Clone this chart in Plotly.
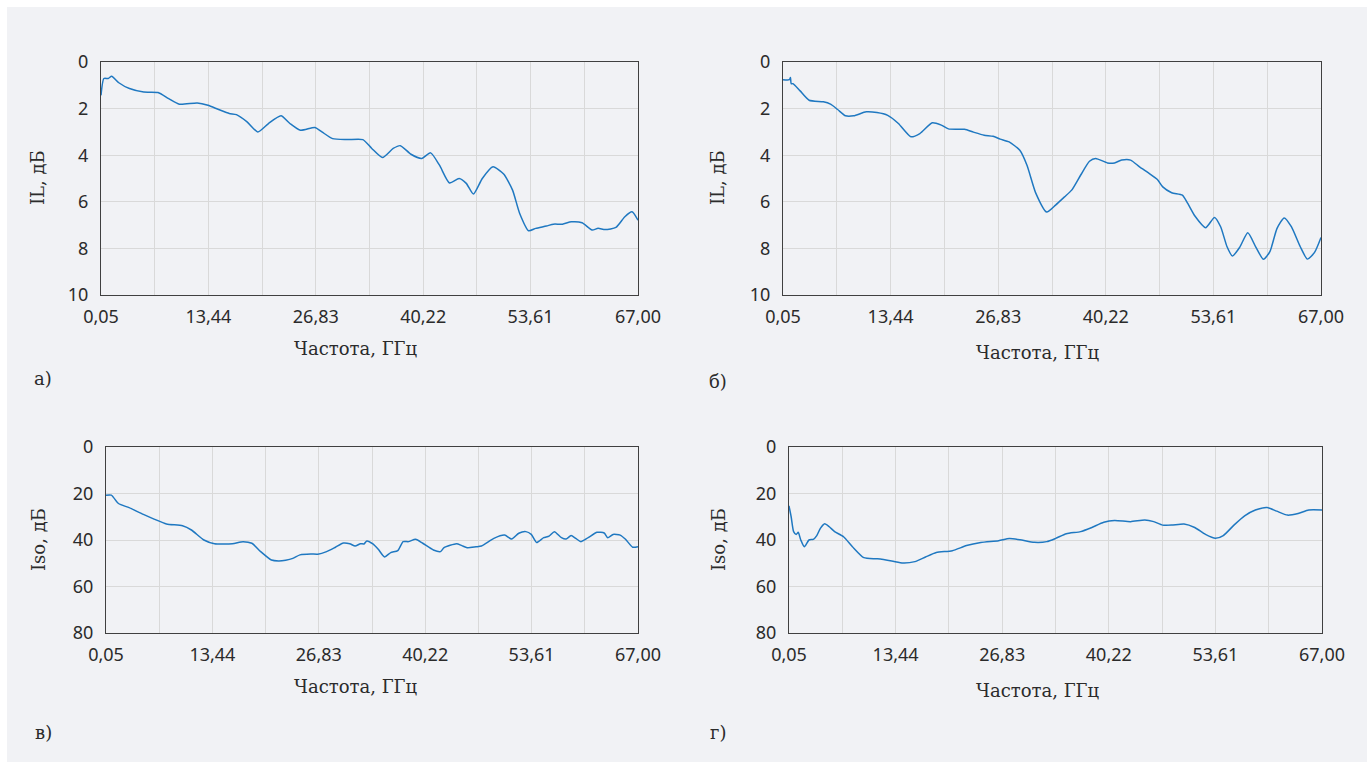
import plotly.graph_objects as go

# ---------------- data ----------------
freq_a = [0.05, 0.41, 0.94, 1.38, 2.27, 3.60, 5.38, 7.16, 8.49, 9.82, 12.05, 13.38, 14.71, 16.04,
          16.93, 18.26, 19.60, 20.93, 22.49, 23.60, 24.93, 26.71, 27.59, 28.93, 30.70, 32.70,
          33.81, 35.15, 36.48, 37.37, 38.70, 40.03, 41.14, 42.25, 43.50, 44.70, 45.59, 46.48,
          47.59, 48.92, 50.25, 51.36, 52.25, 53.36, 54.25, 55.58, 56.47, 57.58, 58.69, 60.03,
          61.27, 62.02, 62.91, 64.25, 65.36, 66.25, 67.0]
il_a = [1.43, 0.71, 0.71, 0.61, 0.89, 1.14, 1.29, 1.31, 1.57, 1.81, 1.76, 1.86, 2.04, 2.21,
        2.26, 2.57, 3.0, 2.64, 2.31, 2.64, 2.93, 2.81, 3.0, 3.29, 3.33, 3.33,
        3.71, 4.1, 3.71, 3.59, 3.96, 4.14, 3.9, 4.43, 5.19, 5.0, 5.21, 5.67,
        5.0, 4.5, 4.81, 5.5, 6.5, 7.24, 7.14, 7.04, 6.96, 6.96, 6.86, 6.9,
        7.21, 7.14, 7.19, 7.1, 6.64, 6.43, 6.79]

freq_b = [0.05, 0.85, 0.98, 1.07, 1.29, 2.18, 3.30, 5.07, 5.96, 6.85, 7.83, 8.85, 10.41, 11.74,
          13.08, 14.41, 15.97, 17.08, 18.63, 19.75, 20.63, 22.63, 23.75, 25.08, 26.19, 27.08,
          28.19, 29.52, 30.41, 31.52, 32.86, 33.97, 35.08, 35.97, 37.08, 38.19, 38.95, 40.42,
          41.31, 42.19, 43.31, 44.42, 45.53, 46.64, 47.31, 48.42, 49.75, 50.42, 51.31, 52.64,
          53.75, 54.51, 55.31, 55.98, 56.87, 57.89, 58.87, 59.84, 60.64, 61.53, 62.42, 63.31,
          64.42, 65.31, 66.20, 67.0]
il_b = [0.76, 0.76, 0.67, 0.93, 0.93, 1.24, 1.64, 1.71, 1.81, 2.04, 2.31, 2.31, 2.14, 2.17,
        2.29, 2.64, 3.21, 3.07, 2.61, 2.71, 2.87, 2.89, 3.01, 3.14, 3.19, 3.31,
        3.43, 3.79, 4.43, 5.64, 6.44, 6.14, 5.79, 5.5, 4.86, 4.26, 4.14, 4.33,
        4.33, 4.21, 4.21, 4.5, 4.76, 5.04, 5.36, 5.61, 5.71, 6.07, 6.61, 7.11,
        6.67, 7.07, 7.93, 8.33, 7.96, 7.33, 7.93, 8.47, 8.14, 7.14, 6.69, 7.07,
        7.93, 8.46, 8.17, 7.53]

freq_c = [0.05, 0.72, 1.62, 2.96, 4.75, 6.10, 7.66, 9.68, 10.80, 12.37, 13.71, 15.95, 17.29,
          18.41, 19.52, 20.87, 21.77, 22.66, 23.56, 24.46, 25.80, 26.70, 27.81, 28.93, 29.92,
          30.73, 31.40, 32.07, 32.52, 32.88, 33.64, 34.31, 35.11, 35.88, 36.77, 37.44, 38.12,
          39.01, 39.91, 41.25, 42.15, 42.59, 44.16, 44.83, 45.50, 46.62, 47.30, 48.86, 50.21,
          51.10, 52.00, 52.89, 53.57, 54.24, 55.13, 55.81, 56.48, 57.37, 57.95, 58.58, 59.16,
          59.83, 60.73, 61.85, 62.74, 63.19, 63.86, 64.76, 65.43, 66.33, 67.0]
iso_c = [20.7, 20.7, 24.3, 26.1, 29.0, 31.0, 33.1, 33.9, 35.7, 40.0, 41.6, 41.6, 40.7,
         41.4, 45.0, 48.6, 49.0, 48.7, 47.9, 46.4, 46.0, 46.1, 45.0, 43.1, 41.3,
         41.6, 42.6, 41.6, 41.7, 40.4, 41.7, 44.0, 47.3, 45.4, 44.6, 40.7, 40.7,
         39.7, 41.4, 44.3, 45.0, 43.3, 41.6, 42.4, 43.3, 42.9, 42.6, 39.3, 37.9,
         39.6, 37.1, 36.4, 37.6, 41.1, 39.0, 38.3, 36.4, 39.0, 39.6, 38.1, 39.3,
         40.7, 39.0, 36.7, 37.0, 39.0, 37.6, 37.9, 39.7, 43.1, 42.9]

freq_d = [0.05, 0.32, 0.63, 0.95, 1.21, 1.53, 1.98, 2.56, 3.10, 3.54, 3.99, 4.53, 5.11, 5.78,
          6.90, 8.02, 9.45, 11.16, 12.95, 14.38, 15.86, 17.20, 18.55, 20.56, 22.35, 24.14,
          26.38, 27.73, 29.07, 30.86, 32.43, 33.55, 34.89, 36.68, 38.03, 39.59, 40.94, 42.95,
          44.74, 45.86, 46.98, 48.10, 49.67, 51.01, 52.36, 53.61, 54.60, 55.94, 57.28, 58.63,
          60.10, 61.31, 62.66, 64.00, 65.34, 67.0]
iso_d = [25.3, 30.0, 36.4, 37.6, 36.7, 40.0, 42.9, 40.0, 39.7, 38.1, 35.0, 33.0, 34.3, 36.4,
         38.6, 42.9, 47.6, 48.1, 49.0, 49.9, 49.3, 47.3, 45.4, 44.6, 42.4, 41.1,
         40.3, 39.4, 39.9, 41.0, 40.7, 39.3, 37.3, 36.4, 34.7, 32.4, 31.6, 32.1,
         31.4, 32.1, 33.6, 33.6, 33.1, 34.6, 37.6, 39.3, 38.1, 33.6, 29.6, 27.1,
         26.0, 27.6, 29.3, 28.6, 27.1, 27.1]

x_tick_vals = [0.05, 6.745, 13.44, 20.135, 26.83, 33.525, 40.22, 46.915, 53.61, 60.305, 67.0]
x_tick_text = ["0,05", "", "13,44", "", "26,83", "", "40,22", "", "53,61", "", "67,00"]
il_ticks = [0, 2, 4, 6, 8, 10]
iso_ticks = [0, 20, 40, 60, 80]

x_title = "Частота, ГГц"
panel_labels = ["а)", "б)", "в)", "г)"]

# ---------------- layout helpers ----------------
W, H = 1367, 762
LINE = "#1f78c1"
GRID = "#d9d9d9"
FRAME = "#404040"
BG = "#f1f2f5"
TICKFONT = dict(family="Noto Sans", size=18, color="#2b2b2b")
TITLEFONT = dict(family="DejaVu Serif", size=18, color="#2b2b2b")


def px(xp):
    return xp / W


def py(yp):
    return (H - yp) / H


# panel boxes in pixels: (x0, x1, ytop, ybottom)
boxes = [(101, 638, 62, 295), (783, 1321, 62, 295), (106, 638, 447, 633), (789, 1322, 447, 633)]

fig = go.Figure()
series = [(freq_a, il_a), (freq_b, il_b), (freq_c, iso_c), (freq_d, iso_d)]
for i, (fx, fy) in enumerate(series):
    n = "" if i == 0 else str(i + 1)
    fig.add_trace(go.Scatter(x=fx, y=fy, mode="lines", xaxis="x" + n, yaxis="y" + n,
                             line=dict(color=LINE, width=1.5, shape="spline", smoothing=0.6),
                             showlegend=False, hoverinfo="skip"))

layout = dict(width=W, height=H, margin=dict(l=0, r=0, t=0, b=0, pad=0, autoexpand=False),
              paper_bgcolor="white", plot_bgcolor="rgba(0,0,0,0)", showlegend=False)

for i, (x0, x1, yt, yb) in enumerate(boxes):
    n = "" if i == 0 else str(i + 1)
    iso = i >= 2
    layout["xaxis" + n] = dict(
        domain=[px(x0), px(x1)], anchor="y" + n, range=[0.05, 67.0], automargin=False,
        tickmode="array", tickvals=x_tick_vals, ticktext=x_tick_text,
        showgrid=True, gridcolor=GRID, gridwidth=1, zeroline=False,
        showline=True, linecolor=FRAME, linewidth=1.2, mirror=True,
        ticks="", tickfont=TICKFONT, ticklabelstandoff=5)
    layout["yaxis" + n] = dict(
        domain=[py(yb), py(yt)], anchor="x" + n, automargin=False,
        range=[80, 0] if iso else [10, 0],
        tickmode="array", tickvals=iso_ticks if iso else il_ticks,
        showgrid=True, gridcolor=GRID, gridwidth=1, zeroline=False,
        showline=True, linecolor=FRAME, linewidth=1.2, mirror=True,
        ticks="", tickfont=TICKFONT, ticklabelstandoff=8)

fig.update_layout(**layout)

shapes = [dict(type="rect", xref="paper", yref="paper", x0=px(7), x1=1.0, y0=0.0, y1=py(7),
               fillcolor=BG, line=dict(width=0), layer="below")]
fig.update_layout(shapes=shapes)

annotations = []
# x axis titles
for (cx, cy) in [(355, 348), (1037, 352), (355, 686), (1037, 690)]:
    annotations.append(dict(x=px(cx), y=py(cy), xref="paper", yref="paper", text=x_title,
                            showarrow=False, font=TITLEFONT, xanchor="center", yanchor="middle"))
# y axis titles
for (cx, cy, t) in [(38, 178, "IL, дБ"), (718, 178, "IL, дБ"), (38, 540, "Iso, дБ"), (718, 540, "Iso, дБ")]:
    annotations.append(dict(x=px(cx), y=py(cy), xref="paper", yref="paper", text=t, textangle=-90,
                            showarrow=False, font=TITLEFONT, xanchor="center", yanchor="middle"))
# panel labels
for (cx, cy), t in zip([(43, 378), (718, 382), (43, 732), (718, 732)], panel_labels):
    annotations.append(dict(x=px(cx), y=py(cy), xref="paper", yref="paper", text=t,
                            showarrow=False, font=TITLEFONT, xanchor="center", yanchor="middle"))
fig.update_layout(annotations=annotations)

fig.write_html("out.html")
